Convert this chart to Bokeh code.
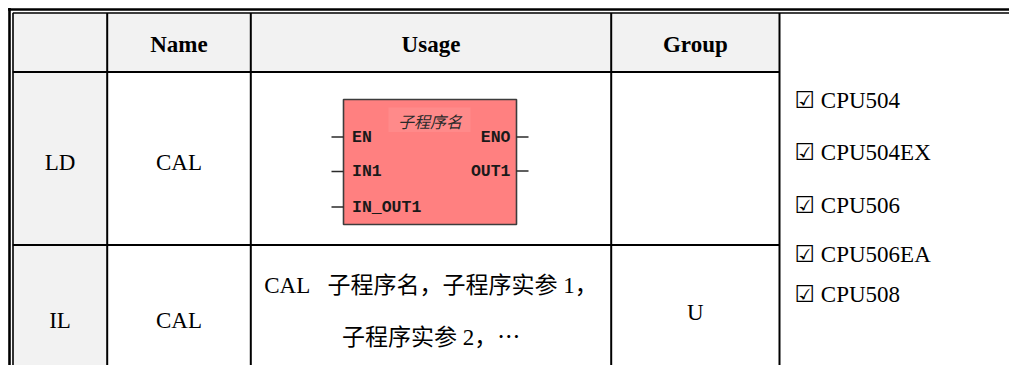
from bokeh.plotting import figure
from bokeh.models import Range1d
from bokeh.core.properties import value
from bokeh.embed import file_html
from bokeh.resources import INLINE

# ---------------- data (table content) ----------------
header_labels = ["Name", "Usage", "Group"]
languages = ["LD", "IL"]
instr_names = ["CAL", "CAL"]
groups = ["", "U"]
il_usage_lines = ["CAL\u00a0\u00a0 子程序名，子程序实参 1，", "子程序实参 2，⋯"]
cpu_models = ["CPU504", "CPU504EX", "CPU506", "CPU506EA", "CPU508"]
fb_title = "子程序名"
fb_inputs = ["EN", "IN1", "IN_OUT1"]
fb_outputs = ["ENO", "OUT1"]

# ---------------- layout (page pixel coordinates) ----------------
W, H = 1009, 365
X0, Y0 = 0, 0
X1, Y1 = X0 + W, Y0 + H
col_edges = [12.3, 106.7, 250.3, 610.7, 779.0]
header_bottom = 71.5
row_edges = [header_bottom, 244.5, 400.0]
header_text_y = 43.5
row_text_y = [162.0, 319.5]
group_text_y = [162.0, 312.0]
usage_line_y = [284.5, 337.0]
cpu_text_x = 794.0
cpu_text_y = [100.0, 152.0, 204.5, 253.5, 293.5]
fb_box = dict(left=343.0, right=516.0, top=99.0, bottom=224.0)
fb_in_y = [136.5, 171.0, 206.5]
fb_out_y = [136.5, 170.5]
pin_len = 12.0

SERIF = "'Liberation Serif', 'Noto Sans CJK SC', 'DejaVu Sans'"
MONO = "'Liberation Mono', 'DejaVu Sans Mono'"
CJK = "'Noto Sans CJK SC'"
FS = "23px"
GRAY = "#f2f2f2"

p = figure(width=W, height=H, output_backend="svg", toolbar_location=None,
           x_range=Range1d(X0, X1), y_range=Range1d(Y1, Y0),
           x_axis_type=None, y_axis_type=None, min_border=0,
           background_fill_color="white", border_fill_color="white",
           outline_line_color=None)
p.grid.visible = False

# ---------- gray fills ----------
p.quad(left=[col_edges[0], col_edges[0]],
       right=[col_edges[4], col_edges[1]],
       top=[12.0, header_bottom],
       bottom=[header_bottom, row_edges[-1]],
       fill_color=GRAY, line_color=None)

# ---------- grid lines ----------
# outer double border (top and left)
p.segment(x0=[7.5, col_edges[0]], y0=[9.0, 12.5], x1=[X1, X1], y1=[9.0, 12.5],
          line_color="black", line_width=[2.6, 1.6])
p.segment(x0=[9.0, 12.5], y0=[7.5, 12.5], x1=[9.0, 12.5], y1=[Y1, Y1],
          line_color="black", line_width=[2.6, 1.6])
# inner vertical lines
vx = col_edges[1:]
p.segment(x0=vx, y0=[12.5] * len(vx), x1=vx, y1=[Y1] * len(vx),
          line_color="black", line_width=2)
# horizontal row lines
hy = row_edges[:2]
p.segment(x0=[col_edges[0]] * 2, y0=hy, x1=[col_edges[4]] * 2, y1=hy,
          line_color="black", line_width=2)

# ---------- header texts ----------
centers = [(col_edges[i] + col_edges[i + 1]) / 2 for i in range(4)]
p.text(x=centers[1:], y=[header_text_y] * 3, text=header_labels,
       text_font=value(SERIF), text_font_size=FS, text_font_style="bold",
       text_align="center", text_baseline="middle", text_color="black")

# ---------- row texts ----------
p.text(x=[centers[0]] * 2, y=row_text_y, text=languages,
       text_font=value(SERIF), text_font_size=FS,
       text_align="center", text_baseline="middle", text_color="black")
p.text(x=[centers[1]] * 2, y=row_text_y, text=instr_names,
       text_font=value(SERIF), text_font_size=FS,
       text_align="center", text_baseline="middle", text_color="black")
p.text(x=[centers[3]] * 2, y=group_text_y, text=groups,
       text_font=value(SERIF), text_font_size=FS,
       text_align="center", text_baseline="middle", text_color="black")
p.text(x=[centers[2]] * 2, y=usage_line_y, text=il_usage_lines,
       text_font=value(SERIF), text_font_size=FS,
       text_align="center", text_baseline="middle", text_color="black")

# ---------- CPU list ----------
p.text(x=[cpu_text_x] * len(cpu_models), y=cpu_text_y,
       text=["☑ " + c for c in cpu_models],
       text_font=value(SERIF), text_font_size=FS,
       text_align="left", text_baseline="middle", text_color="black")

# ---------- function block (LD usage) ----------
b = fb_box
p.quad(left=[b["left"]], right=[b["right"]], top=[b["top"]], bottom=[b["bottom"]],
       fill_color="#ff8080", line_color="#3c3c3c", line_width=1.6)
# lighter title area
p.quad(left=[388.0], right=[470.0], top=[107.0], bottom=[131.5],
       fill_color="#ff8a8a", line_color=None)
p.text(x=[(b["left"] + b["right"]) / 2], y=[120.0], text=[fb_title],
       text_font=value(CJK), text_font_size="16px", text_font_style="italic",
       text_align="center", text_baseline="middle", text_color="#2a2a2a")
# pins
p.segment(x0=[b["left"] - pin_len] * 3, y0=fb_in_y, x1=[b["left"]] * 3, y1=fb_in_y,
          line_color="#2a2a2a", line_width=1.3)
p.segment(x0=[b["right"]] * 2, y0=fb_out_y, x1=[b["right"] + pin_len] * 2, y1=fb_out_y,
          line_color="#2a2a2a", line_width=1.3)
p.text(x=[b["left"] + 8.5] * 3, y=fb_in_y, text=fb_inputs,
       text_font=value(MONO), text_font_size="16.5px", text_font_style="bold",
       text_align="left", text_baseline="middle", text_color="#1a1a1a")
p.text(x=[b["right"] - 6.0] * 2, y=fb_out_y, text=fb_outputs,
       text_font=value(MONO), text_font_size="16.5px", text_font_style="bold",
       text_align="right", text_baseline="middle", text_color="#1a1a1a")

open("out.html", "w").write(file_html(p, INLINE))
